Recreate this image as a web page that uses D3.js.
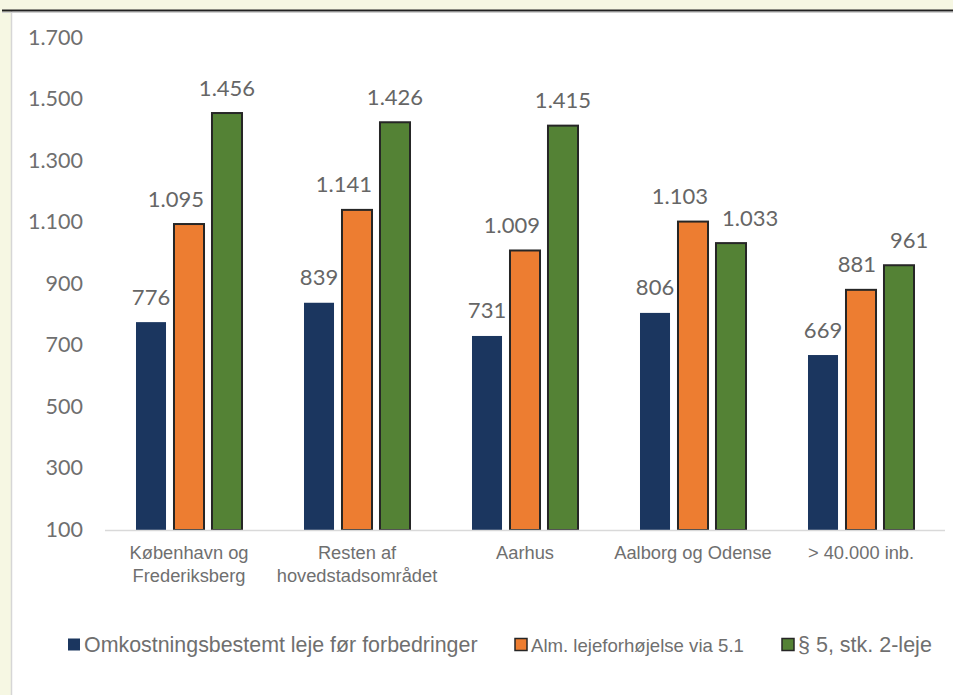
<!DOCTYPE html>
<html><head><meta charset="utf-8">
<script src="https://cdn.jsdelivr.net/npm/d3@7"></script>
<style>
html,body{margin:0;padding:0;background:#fff;}
svg{display:block;}
</style></head>
<body>
<script>
const categories = [["København og","Frederiksberg"],["Resten af","hovedstadsområdet"],["Aarhus"],["Aalborg og Odense"],["> 40.000 inb."]];
const seriesNames = ["Omkostningsbestemt leje før forbedringer","Alm. lejeforhøjelse via 5.1","§ 5, stk. 2-leje"];
const omkostning = [776, 839, 731, 806, 669];
const almLeje = [1095, 1141, 1009, 1103, 881];
const stk2 = [1456, 1426, 1415, 1033, 961];
const yTicks = [100, 300, 500, 700, 900, 1100, 1300, 1500, 1700];
const colors = ["#1b365f", "#ed7d31", "#548235"];

const W = 953, H = 695;
const svg = d3.select("body").append("svg").attr("width", W).attr("height", H);

// frame
svg.append("rect").attr("x",0).attr("y",0).attr("width",W).attr("height",H).attr("fill","#f6f7e3");
svg.append("rect").attr("x",11).attr("y",11).attr("width",W-11).attr("height",H-11).attr("fill","#fff");
svg.append("line").attr("x1",11.5).attr("x2",11.5).attr("y1",11).attr("y2",H).attr("stroke","#d6d6d6").attr("stroke-width",1.5);
svg.append("line").attr("x1",2).attr("x2",W).attr("y1",10.5).attr("y2",10.5).attr("stroke","#222").attr("stroke-width",2);
svg.append("line").attr("x1",2).attr("x2",W).attr("y1",12.5).attr("y2",12.5).attr("stroke","#cfcfcf").attr("stroke-width",1);

const loc = d3.formatLocale({decimal: ",", thousands: ".", grouping: [3], currency: ["", " kr."]});
const fmt = loc.format(",d");

const y = d3.scaleLinear().domain([100, 1700]).range([530, 38]);
const x0 = d3.scaleBand().domain(d3.range(categories.length)).range([105, 945]).paddingInner(0.369).paddingOuter(0.1845);
const x1 = d3.scaleBand().domain([0,1,2]).range([0, x0.bandwidth()]).paddingInner(0.21);

// y axis labels
const yAxis = d3.axisLeft(y).tickValues(yTicks).tickFormat(fmt).tickSize(0).tickPadding(0);
const yg = svg.append("g").attr("transform","translate(83,0)").call(yAxis);
yg.select(".domain").remove();
yg.selectAll("text").attr("font-family","Lato, 'Open Sans', sans-serif").attr("font-size",21.5).attr("fill","#6f6f6f").attr("dy","0.3em");

const data = categories.map((c,i)=>[omkostning[i], almLeje[i], stk2[i]]);

const groups = svg.append("g").selectAll("g").data(data).join("g")
  .attr("transform",(d,i)=>`translate(${x0(i)},0)`);

groups.selectAll("rect").data(d=>d).join("rect")
  .attr("x",(d,j)=>x1(j))
  .attr("y",d=>y(d))
  .attr("width",x1.bandwidth())
  .attr("height",d=>y(100)-y(d))
  .attr("fill",(d,j)=>colors[j])
  .attr("stroke",(d,j)=>j===0?"none":"#262626")
  .attr("stroke-width",2);

// data labels with simple collision avoidance (similar to spreadsheet "best fit")
const LFS = 22, LOFF = 17.5, GAP = 14;
groups.each(function(vals){
  const g = d3.select(this);
  const bw = x1.bandwidth();
  const texts = vals.map((v,j)=> g.append("text")
    .attr("text-anchor","start")
    .attr("font-family","Lato, 'Open Sans', sans-serif")
    .attr("font-size",LFS)
    .attr("fill","#666")
    .text(fmt(v)));
  const mk = (v,j,descent)=>{
    const w = texts[j].node().getComputedTextLength();
    const base = y(v) - LOFF;
    return {x: x1(j) + bw/2 - w/2, w, top: base - LFS*0.95, bot: base + LFS*descent, base};
  };
  const tight = vals.map((v,j)=>mk(v,j,0.25));
  const boxes = vals.map((v,j)=>mk(v,j,0.35));
  const bars = vals.map((v,j)=>({x: x1(j), w: bw, top: y(v), bot: y(100)}));
  const ov = (a,b,pad=0)=> a.x < b.x + b.w + pad && b.x < a.x + a.w + pad && a.top < b.bot && b.top < a.bot;
  // step a: label colliding with the neighbour on its right -> align with own bar's right edge
  for (let j=0;j<vals.length-1;j++){
    if (ov(tight[j], bars[j+1]) || ov(tight[j], tight[j+1])) {
      boxes[j].x = x1(j) + bw - boxes[j].w;
    }
  }
  // step b: label colliding with neighbour on its left -> push right with a gap
  for (let j=1;j<vals.length;j++){
    const L = boxes[j-1], B = bars[j-1];
    let minX = boxes[j].x;
    if (ov(boxes[j], B)) minX = Math.max(minX, B.x + B.w + GAP);
    if (ov(boxes[j], L, GAP)) minX = Math.max(minX, L.x + L.w + GAP);
    boxes[j].x = minX;
  }
  texts.forEach((t,j)=> t.attr("x", boxes[j].x).attr("y", boxes[j].base));
});

// baseline
svg.append("line").attr("x1",105).attr("x2",945).attr("y1",y(100)+0.5).attr("y2",y(100)+0.5).attr("stroke","#d9d9d9").attr("stroke-width",1.5);

// category labels
const xAxis = d3.axisBottom(x0).tickSize(0).tickFormat("");
const xg = svg.append("g").attr("transform",`translate(0,${y(100)})`).call(xAxis);
xg.select(".domain").remove();
xg.selectAll(".tick").each(function(d){
  const t = d3.select(this).append("text")
    .attr("text-anchor","middle")
    .attr("font-family","'Liberation Sans', Arial, sans-serif")
    .attr("font-size",18.3)
    .attr("fill","#6f6f6f");
  categories[d].forEach((line,k)=>{
    t.append("tspan").attr("x",0).attr("y",29 + k*23).text(line);
  });
});

// legend
const legendItems = [
  {x:68, size:21.4},
  {x:515, size:18.6},
  {x:782, size:21.5}
];
const lg = svg.append("g");
legendItems.forEach((it,i)=>{
  lg.append("rect").attr("x",it.x).attr("y",638.5).attr("width",12).attr("height",12)
    .attr("fill",colors[i]).attr("stroke",i===0?"none":"#262626").attr("stroke-width",1.5);
  lg.append("text").attr("x",it.x+16).attr("y",652)
    .attr("font-family","'Liberation Sans', Arial, sans-serif")
    .attr("font-size",it.size).attr("fill","#6f6f6f").text(seriesNames[i]);
});
</script>
</body></html>
